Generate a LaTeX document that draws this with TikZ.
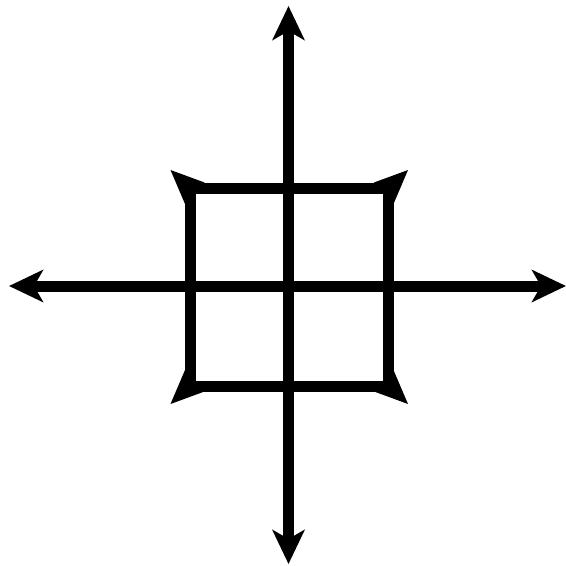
\documentclass[tikz,border=0pt]{standalone}
\usetikzlibrary{arrows.meta}
\begin{document}
\begin{tikzpicture}[x=1pt, y=-1pt,
	axis/.style={line width=11pt, {Stealth[length=34pt, width=32pt, inset=9pt]}-{Stealth[length=34pt, width=32pt, inset=9pt]}},
	box/.style={line width=11pt, line join=miter}]
	\useasboundingbox (0,0) rectangle (566,566);
	% axes
	\coordinate (left) at (9,286);
	\coordinate (right) at (566,286);
	\coordinate (top) at (288.5,6);
	\coordinate (bottom) at (288.5,564);
	\draw[axis] (left) -- (right);
	\draw[axis] (bottom) -- (top);
	% square
	\coordinate (c1) at (190.5,188);
	\coordinate (c2) at (388,188);
	\coordinate (c3) at (388,386);
	\coordinate (c4) at (190.5,386);
	\draw[box] (c1) -- (c2) -- (c3) -- (c4) -- cycle;
	% corner barbs
	\foreach \c/\sx/\sy in {c1/-1/-1, c2/1/-1, c3/1/1, c4/-1/1}
		\fill ([shift={(\sx*20,\sy*18)}]\c) -- ([shift={(-\sx*14,\sy*5.5)}]\c) -- ([shift={(-\sx*5,-\sy*5)}]\c) -- ([shift={(\sx*5.5,-\sy*16)}]\c) -- cycle;
\end{tikzpicture}
\end{document}
